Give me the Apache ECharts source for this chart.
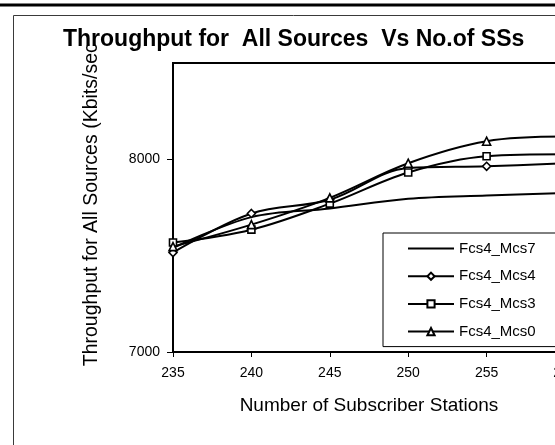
<!DOCTYPE html>
<html>
<head>
<meta charset="utf-8">
<script src="https://cdn.jsdelivr.net/npm/echarts@6/dist/echarts.min.js"></script>
<style>
  html, body { margin: 0; padding: 0; background: #fff; overflow: hidden; }
  #chart { width: 590px; height: 445px; }
</style>
</head>
<body>
<div id="chart"></div>
<script>
// Number of subscriber stations (x values)
const stations = [235, 240, 245, 250, 255, 260];

// Throughput for all sources, Kbits/sec
const fcs4Mcs7 = [7540, 7700, 7745, 7795, 7812, 7825];
const fcs4Mcs4 = [7516, 7719, 7790, 7955, 7964, 7980];
const fcs4Mcs3 = [7568, 7635, 7770, 7932, 8016, 8026];
const fcs4Mcs0 = [7547, 7661, 7800, 7980, 8094, 8118];

const seriesNames = ['Fcs4_Mcs7', 'Fcs4_Mcs4', 'Fcs4_Mcs3', 'Fcs4_Mcs0'];
const seriesValues = [fcs4Mcs7, fcs4Mcs4, fcs4Mcs3, fcs4Mcs0];

// Plain line (no marker) uses a fully transparent 1x1 image so its legend entry is just a line
const BLANK = 'image://data:image/gif;base64,R0lGODlhAQABAIAAAAAAAP///yH5BAEAAAAALAAAAAABAAEAAAIBRAA7';
const seriesSymbols = [BLANK, 'diamond', 'rect', 'triangle'];

const FONT = 'Liberation Sans, Arial, sans-serif';

const chart = echarts.init(document.getElementById('chart'), null, { renderer: 'canvas' });

const series = seriesNames.map((name, i) => ({
  name: name,
  type: 'line',
  smooth: 0.35,
  data: stations.map((x, j) => [x, seriesValues[i][j]]),
  symbol: seriesSymbols[i],
  showSymbol: i !== 0,
  symbolSize: seriesSymbols[i] === 'rect' ? 7 : 8,
  lineStyle: { color: '#000', width: 2 },
  itemStyle: { color: '#fff', borderColor: '#000', borderWidth: 1.6 },
  emphasis: { disabled: true },
  z: 3
}));

chart.setOption({
  animation: false,
  backgroundColor: '#fff',
  title: {
    text: 'Throughput for  All Sources  Vs No.of SSs',
    left: 63,
    top: 28,
    padding: 0,
    textStyle: { fontFamily: FONT, fontSize: 23, fontWeight: 'bold', color: '#000' }
  },
  graphic: [
    { type: 'rect', shape: { x: 0, y: 3.5, width: 590, height: 3 }, style: { fill: '#000' }, z: 10 },
    { type: 'rect', shape: { x: 13.5, y: 15.5, width: 560, height: 520 },
      style: { fill: null, stroke: '#3a3a3a', lineWidth: 1 }, z: 10 }
  ],
  grid: {
    left: 173, top: 63, width: 392, height: 289,
    show: true, borderColor: '#000', borderWidth: 2, backgroundColor: 'transparent'
  },
  legend: {
    orient: 'vertical',
    left: 383, top: 233,
    padding: [8, 40, 7.5, 24],
    itemWidth: 46, itemHeight: 9, itemGap: 12.7,
    borderColor: '#000', borderWidth: 1,
    backgroundColor: '#fff',
    textStyle: { fontFamily: FONT, fontSize: 15, color: '#000' },
    data: seriesNames
  },
  xAxis: {
    type: 'value',
    min: 235, max: 260, interval: 5,
    name: 'Number of Subscriber Stations',
    nameLocation: 'middle',
    nameGap: 44,
    nameTextStyle: { fontFamily: FONT, fontSize: 19, color: '#000' },
    axisLine: { show: true, lineStyle: { color: '#000', width: 2 } },
    axisTick: { show: true, length: 5, lineStyle: { color: '#000', width: 1 } },
    axisLabel: { fontFamily: FONT, fontSize: 14, color: '#000', margin: 14 },
    splitLine: { show: false }
  },
  yAxis: {
    type: 'value',
    min: 7000, max: 8500, interval: 1000,
    name: 'Throughput for All Sources (Kbits/sec',
    nameLocation: 'middle',
    nameGap: 71,
    nameTextStyle: { fontFamily: FONT, fontSize: 19.5, color: '#000', padding: [0, 0, 0, 5.5] },
    axisLine: { show: true, lineStyle: { color: '#000', width: 2 } },
    axisTick: { show: true, length: 6, lineStyle: { color: '#000', width: 1 } },
    axisLabel: {
      fontFamily: FONT, fontSize: 14, color: '#000', margin: 13, showMaxLabel: false,
      formatter: (v) => String(v)
    },
    splitLine: { show: false }
  },
  series: series
});
</script>
</body>
</html>
